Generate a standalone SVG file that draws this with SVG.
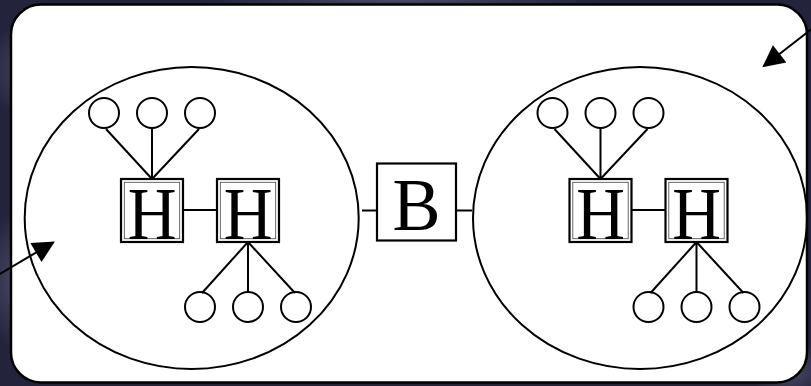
<svg xmlns="http://www.w3.org/2000/svg" width="811" height="386" viewBox="0 0 811 386">
<style>
.ln{stroke:#000;stroke-width:2;fill:none}
.ci{stroke:#000;stroke-width:2;fill:#fff}
.bx{stroke:#000;stroke-width:2.2;fill:#fff}
.bi{stroke:#444;stroke-width:0.8;fill:none}
.tx{font-family:"Liberation Serif","Times New Roman",serif;font-size:75px;fill:#000;text-anchor:middle}
</style>
<defs>
<radialGradient id="spot" cx="0.5" cy="0.5" r="0.5">
<stop offset="0" stop-color="#6a6a8c" stop-opacity="0.55"/>
<stop offset="1" stop-color="#6a6a8c" stop-opacity="0"/>
</radialGradient>
<marker id="arr" viewBox="0 0 10 10" refX="9" refY="5" markerUnits="userSpaceOnUse" markerWidth="24" markerHeight="22" orient="auto">
<path d="M0,0 L10,5 L0,10 z" fill="#000"/>
</marker>
</defs>
<rect x="0" y="0" width="811" height="386" fill="#24233c"/>
<ellipse cx="40" cy="70" rx="60" ry="50" fill="url(#spot)"/>
<ellipse cx="20" cy="280" rx="40" ry="70" fill="url(#spot)"/>
<ellipse cx="400" cy="0" rx="200" ry="10" fill="url(#spot)"/>
<ellipse cx="790" cy="370" rx="40" ry="30" fill="url(#spot)"/>
<rect x="11" y="4.5" width="796" height="378" rx="30" fill="#fff" stroke="#000" stroke-width="2.5"/>

<g id="left-cluster">
<ellipse cx="191.7" cy="218" rx="167" ry="151" class="ln"/>
<g id="l-top-circles"><circle cx="104" cy="113" r="15" class="ci"/><circle cx="152" cy="113" r="15" class="ci"/><circle cx="200" cy="113" r="15" class="ci"/></g>
<g id="l-bot-circles"><circle cx="200" cy="307" r="15" class="ci"/><circle cx="248" cy="307" r="15" class="ci"/><circle cx="296" cy="307" r="15" class="ci"/></g>
<g id="l-h1"><rect x="121" y="179" width="62" height="63" class="bx"/><rect x="124.3" y="182.3" width="55.4" height="56.4" class="bi"/><text transform="translate(152,238.5) scale(0.9,1)" class="tx">H</text></g>
<g id="l-h2"><rect x="217" y="179" width="62" height="63" class="bx"/><rect x="220.3" y="182.3" width="55.4" height="56.4" class="bi"/><text transform="translate(248,238.5) scale(0.9,1)" class="tx">H</text></g>
</g>

<g id="right-cluster">
<ellipse cx="640" cy="218" rx="167" ry="151" class="ln"/>
<g id="r-top-circles"><circle cx="552.5" cy="113" r="15" class="ci"/><circle cx="600.5" cy="113" r="15" class="ci"/><circle cx="648.5" cy="113" r="15" class="ci"/></g>
<g id="r-bot-circles"><circle cx="648.5" cy="307" r="15" class="ci"/><circle cx="696.5" cy="307" r="15" class="ci"/><circle cx="744.5" cy="307" r="15" class="ci"/></g>
<g id="r-h1"><rect x="569.5" y="179" width="62" height="63" class="bx"/><rect x="572.8" y="182.3" width="55.4" height="56.4" class="bi"/><text transform="translate(600.5,238.5) scale(0.9,1)" class="tx">H</text></g>
<g id="r-h2"><rect x="665.5" y="179" width="62" height="63" class="bx"/><rect x="668.8" y="182.3" width="55.4" height="56.4" class="bi"/><text transform="translate(696.5,238.5) scale(0.9,1)" class="tx">H</text></g>
</g>

<g id="b-node"><rect x="377" y="163.5" width="79" height="77" class="bx"/><text transform="translate(416.5,229.5) scale(0.96,1)" class="tx">B</text></g>

<g id="connectors">
<path class="ln" d="M106,129 L152,179 M152,128 L152,179 M199,129 L152,179"/>
<path class="ln" d="M248,242 L202,293 M248,242 L248,292 M248,242 L295,293"/>
<path class="ln" d="M183,210 L217,210"/>
<path class="ln" d="M554.5,129 L600.5,179 M600.5,128 L600.5,179 M647.5,129 L600.5,179"/>
<path class="ln" d="M696.5,242 L650.5,293 M696.5,242 L696.5,292 M696.5,242 L743.5,293"/>
<path class="ln" d="M631.5,210 L665.5,210"/>
<path class="ln" d="M362,210.5 L377,210.5 M456,210.5 L472,210.5"/>
<path class="ln" d="M813,28 L764,66" marker-end="url(#arr)"/>
<path class="ln" d="M-2,275 L53,242.5" marker-end="url(#arr)"/>
</g>
</svg>
